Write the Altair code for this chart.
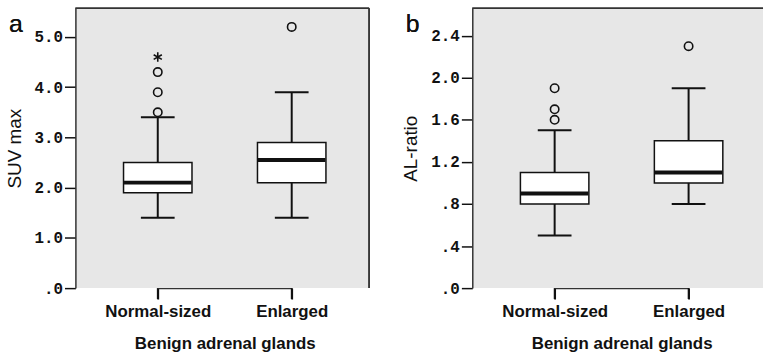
import altair as alt
import pandas as pd

# Box-plot summaries for the two groups of benign adrenal glands
groups = ["Normal-sized", "Enlarged"]

# Panel a: SUV max
suv_low = [1.4, 1.4]
suv_q1 = [1.9, 2.1]
suv_median = [2.1, 2.55]
suv_q3 = [2.5, 2.9]
suv_high = [3.4, 3.9]
suv_outlier_group = ["Normal-sized", "Normal-sized", "Normal-sized", "Enlarged"]
suv_outlier_value = [3.5, 3.9, 4.3, 5.2]
suv_extreme_group = ["Normal-sized"]
suv_extreme_value = [4.6]

# Panel b: AL-ratio
al_low = [0.5, 0.8]
al_q1 = [0.8, 1.0]
al_median = [0.9, 1.1]
al_q3 = [1.1, 1.4]
al_high = [1.5, 1.9]
al_outlier_group = ["Normal-sized", "Normal-sized", "Normal-sized", "Enlarged"]
al_outlier_value = [1.6, 1.7, 1.9, 2.3]
al_extreme_group = []
al_extreme_value = []

suv_ticks = [0, 1, 2, 3, 4, 5]
al_ticks = [0, 0.4, 0.8, 1.2, 1.6, 2.0, 2.4]

INK = "#111111"
FRAME = "#333333"
PANEL_BG = "#e7e7e7"
STAR = "M0,-1L0,1M-0.87,-0.5L0.87,0.5M-0.87,0.5L0.87,-0.5"
HEIGHT = 282


def panel(low, q1, med, q3, high, og, ov, eg, ev, ytitle, ymax, ticks, width, letter, right_frame):
    box = pd.DataFrame({"group": groups, "low": low, "q1": q1, "median": med, "q3": q3, "high": high})
    out = pd.DataFrame({"group": og, "value": ov})
    ext = pd.DataFrame({"group": eg, "value": ev})

    x = alt.X(
        "group:N",
        sort=groups,
        scale=alt.Scale(type="point", range=[83, 218], padding=0),
        axis=alt.Axis(title="Benign adrenal glands", domainColor=FRAME, domainWidth=1.5,
                      ticks=True, tickSize=11, tickColor=INK, tickWidth=1.8, labelPadding=5),
    )
    xs = alt.X("group:N", sort=groups)
    yscale = alt.Scale(domain=[0, ymax], nice=False, zero=True)
    yaxis = alt.Axis(
        title=ytitle,
        values=ticks,
        labelExpr="datum.value == 0 ? '.0' : (datum.value < 1 ? substring(format(datum.value, '.1f'), 1) : format(datum.value, '.1f'))",
    )

    body = alt.Chart(box).mark_bar(size=69, fill="white", stroke=INK, strokeWidth=1.5, opacity=1).encode(
        x=x, y=alt.Y("q1:Q", scale=yscale, axis=yaxis), y2="q3:Q"
    )
    base = alt.Chart(box).encode(x=xs)
    lower = base.mark_rule(color=INK, strokeWidth=2).encode(y="low:Q", y2="q1:Q")
    upper = base.mark_rule(color=INK, strokeWidth=2).encode(y="q3:Q", y2="high:Q")
    cap_low = base.mark_tick(color=INK, size=34, thickness=2, opacity=1).encode(y="low:Q")
    cap_high = base.mark_tick(color=INK, size=34, thickness=2, opacity=1).encode(y="high:Q")
    median = base.mark_tick(color=INK, size=68, thickness=4, opacity=1).encode(y="median:Q")

    # category tick marks hanging below the x axis
    xticks = base.mark_tick(color=INK, orient="vertical", size=11, thickness=1.8, opacity=1).encode(
        y=alt.value(HEIGHT + 5.5)
    )

    outliers = alt.Chart(out).mark_point(
        shape="circle", size=72, filled=False, color=INK, strokeWidth=1.6, opacity=1
    ).encode(x=xs, y="value:Q")

    layers = [body, lower, upper, median, cap_low, cap_high, xticks, outliers]
    if len(ext):
        extremes = alt.Chart(ext).mark_point(
            shape=STAR, size=90, filled=False, color=INK, strokeWidth=1.6, opacity=1
        ).encode(x=xs, y="value:Q")
        layers.append(extremes)

    # upper (and optionally right) edge of the plot frame
    top = alt.Chart(box).mark_rule(color=FRAME, strokeWidth=1.5).encode(
        x=alt.value(0), x2=alt.value(width), y=alt.value(0)
    )
    layers.append(top)
    if right_frame:
        right = alt.Chart(box).mark_rule(color=FRAME, strokeWidth=1.5).encode(
            x=alt.value(width), y=alt.value(0), y2=alt.value("height")
        )
        layers.append(right)

    tag = alt.Chart(box).mark_text(
        text=letter, font="Liberation Sans", fontSize=25, align="center", baseline="alphabetic", color=INK
    ).encode(x=alt.value(-60), y=alt.value(24))
    layers.append(tag)

    return alt.layer(*layers).properties(width=width, height=HEIGHT)


a = panel(suv_low, suv_q1, suv_median, suv_q3, suv_high,
          suv_outlier_group, suv_outlier_value, suv_extreme_group, suv_extreme_value,
          "SUV max", 5.57, suv_ticks, 296, "a", True)
b = panel(al_low, al_q1, al_median, al_q3, al_high,
          al_outlier_group, al_outlier_value, al_extreme_group, al_extreme_value,
          "AL-ratio", 2.66, al_ticks, 293, "b", False)

chart = (
    alt.hconcat(a, b, spacing=32)
    .resolve_scale(y="independent")
    .configure(padding={"left": 5, "top": 6, "right": 0, "bottom": 0})
    .configure_view(fill=PANEL_BG, stroke=None)
    .configure_axisY(
        labelFont="Liberation Mono", labelFontWeight="bold", labelFontSize=16, labelColor=INK,
        labelPadding=2, tickSize=11, tickColor=INK, tickWidth=1.5,
        domainColor=FRAME, domainWidth=1.5, grid=False,
        titleFont="Liberation Sans", titleFontSize=19, titleFontWeight="normal", titleColor=INK,
        titlePadding=10,
    )
    .configure_axisX(
        labelFont="Liberation Sans", labelFontWeight="bold", labelFontSize=17, labelColor=INK,
        labelAngle=0, grid=False,
        titleFont="Liberation Sans", titleFontSize=17, titleFontWeight="bold", titleColor=INK,
        titlePadding=16,
    )
)

chart.save("out.html", embed_options={"renderer": "svg", "actions": False})
